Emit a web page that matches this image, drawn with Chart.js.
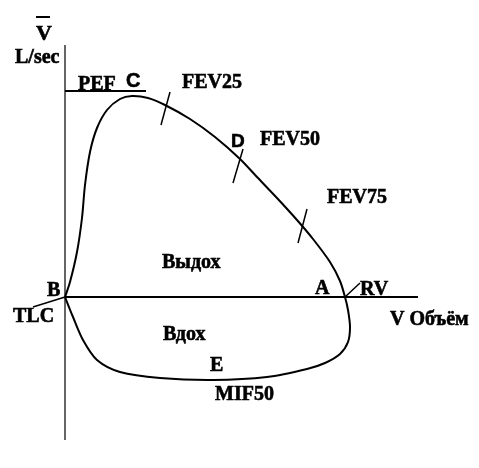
<!DOCTYPE html>
<html>
<head>
<meta charset="utf-8">
<script src="https://cdn.jsdelivr.net/npm/chart.js@4"></script>
<style>
  body { margin: 0; background: #fff; }
  #box { width: 479px; height: 468px; }
</style>
</head>
<body>
<div id="box"><canvas id="loopChart" width="479" height="468"></canvas></div>
<script>
// flow-volume loop, volume in L, flow in L/sec
const loopVolume = [0, 0.1, 0.24, 0.34, 0.4, 0.5, 0.64, 0.84, 1.1, 1.34, 1.66, 2.0, 2.5, 3.0, 3.5, 3.84, 4.24, 4.64, 4.96, 5.3, 5.5, 5.6,
    5.66, 5.7, 5.66, 5.5, 5.2, 4.84, 4.04, 2.96, 1.9, 1.1, 0.64, 0.36, 0.16, 0];
const loopFlow = [0, 0.6, 1.8, 3.16, 4.48, 5.8, 6.76, 7.48, 7.92, 8.04, 7.96, 7.68, 7.12, 6.4, 5.52, 4.8, 3.96, 3.08, 2.32, 1.4, 0.64, 0,
    -0.52, -1.2, -1.8, -2.28, -2.64, -2.88, -3.2, -3.32, -3.24, -3.0, -2.52, -1.72, -0.8, 0];

// small marks on the expiratory curve: [x1, y1, x2, y2]
const fev25Mark = [2.1, 8.2, 1.92, 6.88];
const fev50Mark = [3.56, 5.92, 3.36, 4.56];
const fev75Mark = [4.84, 3.52, 4.66, 2.16];
const pefMark = [0, 8.24, 1.62, 8.24];
const tlcMark = [-0.64, -0.4, 0, 0];
const rvMark = [5.6, 0, 5.9, 0.56];

// axes
const flowAxis = [0, 10.08, 0, -5.72];
const volumeAxis = [0, 0, 7.06, 0];

function toPoints(xs, ys) {
    let pts = [];
    for (let i = 0; i < xs.length; i++) {
        pts.push({ x: xs[i], y: ys[i] });
    }
    return pts;
}

function segment(m, width) {
    return {
        data: [{ x: m[0], y: m[1] }, { x: m[2], y: m[3] }],
        showLine: true,
        borderColor: "#000",
        borderWidth: width,
        pointRadius: 0,
        tension: 0
    };
}

const serif = "bold 20px 'Liberation Serif', 'Times New Roman', serif";
const sans = "bold 20px 'Liberation Sans', Arial, sans-serif";

const labels = [
    { text: "V", x: -0.58, y: 10.28, font: "bold 22px 'Liberation Serif', serif" },
    { text: "L/sec", x: -1.0, y: 9.36, font: serif },
    { text: "PEF", x: 0.26, y: 8.28, font: serif },
    { text: "C", x: 1.22, y: 8.4, font: sans },
    { text: "FEV25", x: 2.34, y: 8.36, font: serif },
    { text: "D", x: 3.32, y: 6.0, font: "bold 19px 'Liberation Sans', Arial, sans-serif" },
    { text: "FEV50", x: 3.9, y: 6.08, font: serif },
    { text: "FEV75", x: 5.24, y: 3.76, font: serif },
    { text: "Выдох", x: 1.94, y: 1.16, font: serif },
    { text: "B", x: -0.36, y: 0.04, font: serif },
    { text: "A", x: 5.0, y: 0.12, font: serif },
    { text: "RV", x: 5.9, y: 0.08, font: serif },
    { text: "TLC", x: -1.04, y: -1.0, font: serif },
    { text: "V Объём", x: 6.5, y: -1.12, font: serif },
    { text: "Вдох", x: 1.96, y: -1.72, font: serif },
    { text: "E", x: 2.9, y: -2.96, font: serif },
    { text: "MIF50", x: 3.0, y: -4.12, font: serif }
];

const labelPlugin = {
    id: "labels",
    afterDatasetsDraw(chart) {
        const ctx = chart.ctx;
        const xs = chart.scales.x;
        const ys = chart.scales.y;
        ctx.save();
        ctx.fillStyle = "#000";
        ctx.strokeStyle = "#000";
        ctx.textAlign = "left";
        ctx.textBaseline = "alphabetic";
        labels.forEach(function (l) {
            ctx.font = l.font;
            ctx.lineWidth = 0.6;
            let px = xs.getPixelForValue(l.x);
            let py = ys.getPixelForValue(l.y);
            ctx.fillText(l.text, px, py);
            ctx.strokeText(l.text, px, py);
        });
        // bar over the V (mean flow)
        ctx.lineWidth = 2;
        ctx.beginPath();
        ctx.moveTo(xs.getPixelForValue(-0.58), ys.getPixelForValue(11.2));
        ctx.lineTo(xs.getPixelForValue(-0.3), ys.getPixelForValue(11.2));
        ctx.stroke();
        ctx.restore();
    }
};

new Chart(document.getElementById("loopChart"), {
    type: "scatter",
    data: {
        datasets: [
            segment(flowAxis, 1.2),
            segment(volumeAxis, 2),
            {
                data: toPoints(loopVolume, loopFlow),
                showLine: true,
                borderColor: "#000",
                borderWidth: 2,
                pointRadius: 0,
                tension: 0.3
            },
            segment(fev25Mark, 1.5),
            segment(fev50Mark, 1.5),
            segment(fev75Mark, 1.5),
            segment(pefMark, 2),
            segment(tlcMark, 1.5),
            segment(rvMark, 1.5)
        ]
    },
    options: {
        responsive: false,
        animation: false,
        layout: { padding: 0 },
        plugins: { legend: { display: false }, tooltip: { enabled: false } },
        scales: {
            x: { type: "linear", min: -1.3, max: 8.28, display: false },
            y: { type: "linear", min: -6.84, max: 11.88, display: false }
        }
    },
    plugins: [labelPlugin]
});
</script>
</body>
</html>
